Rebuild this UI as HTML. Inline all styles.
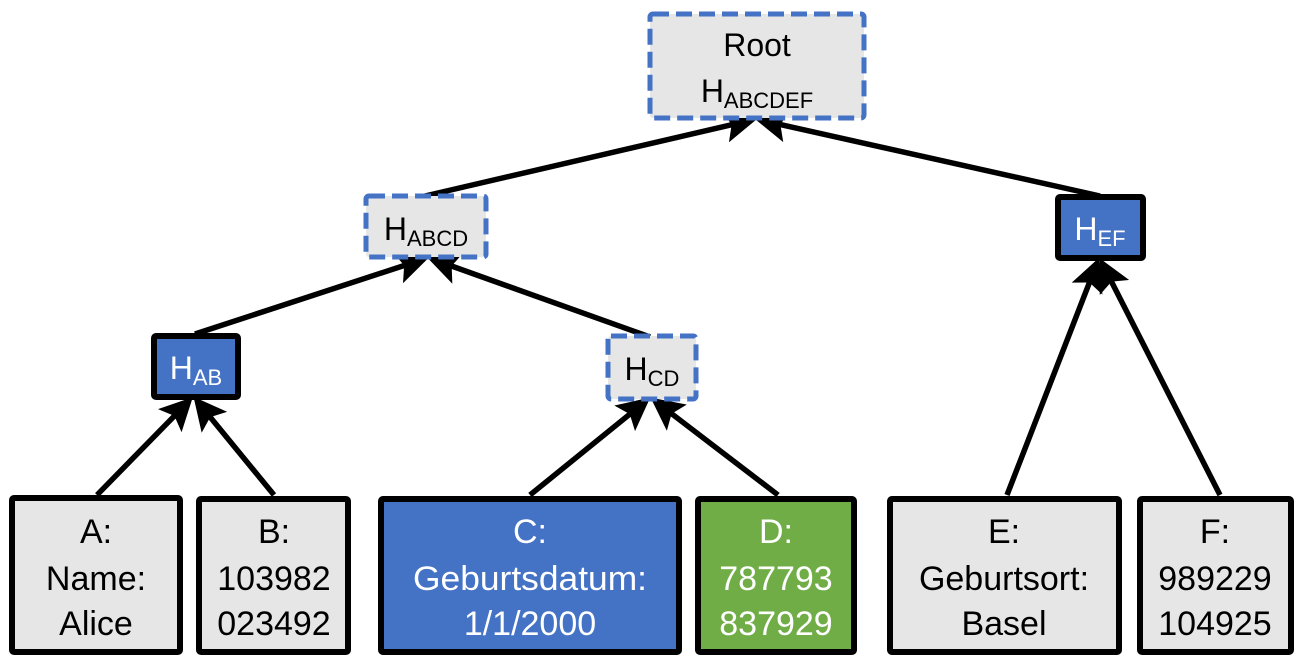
<!DOCTYPE html>
<html><head><meta charset="utf-8"><style>
html,body{margin:0;padding:0;background:#fff;}
svg{display:block;}
text{font-family:"Liberation Sans",sans-serif;}
</style></head><body>
<svg width="1311" height="665" viewBox="0 0 1311 665" xmlns="http://www.w3.org/2000/svg">
<defs>
<marker id="ah" markerWidth="6" markerHeight="6" refX="5" refY="3" orient="auto" markerUnits="strokeWidth">
<path d="M0,0 L6,3 L0,6 L1.2,3 z" fill="#000"/>
</marker>
</defs>
<g stroke="#000" stroke-width="5.5" fill="none" marker-end="url(#ah)">
<line x1="425" y1="196" x2="752" y2="120"/>
<line x1="1100" y1="196" x2="760" y2="120"/>
<line x1="195" y1="334" x2="424" y2="259"/>
<line x1="650" y1="337" x2="432" y2="259"/>
<line x1="97" y1="495" x2="189" y2="401"/>
<line x1="274" y1="495" x2="197" y2="401"/>
<line x1="530" y1="495" x2="646" y2="401"/>
<line x1="778" y1="495" x2="655" y2="401"/>
<line x1="1007" y1="495" x2="1097" y2="263"/>
<line x1="1220" y1="495" x2="1102" y2="263"/>
</g>
<g fill="#e6e6e6" stroke="#4472C4" stroke-width="5" stroke-dasharray="16,7">
<rect x="650" y="14" width="214" height="104" rx="3"/>
<rect x="366" y="196" width="120" height="61" rx="3"/>
<rect x="608" y="336" width="88" height="63" rx="3"/>
</g>
<g fill="#4472C4" stroke="#000" stroke-width="6">
<rect x="154" y="336" width="84" height="61" rx="2"/>
<rect x="1058" y="197" width="85" height="61" rx="2"/>
</g>
<g stroke="#000" stroke-width="6">
<rect x="12" y="498" width="168" height="154" fill="#e6e6e6" rx="2"/>
<rect x="199" y="499" width="149" height="153" fill="#e6e6e6" rx="2"/>
<rect x="381" y="499" width="298" height="153" fill="#4472C4" rx="2"/>
<rect x="698" y="499" width="156" height="153" fill="#70AD47" rx="2"/>
<rect x="890" y="499" width="229" height="153" fill="#e6e6e6" rx="2"/>
<rect x="1140" y="499" width="151" height="153" fill="#e6e6e6" rx="2"/>
</g>
<g font-size="32" text-anchor="middle" fill="#000">
<text x="757" y="56">Root</text>
<text x="757" y="102">H<tspan font-size="22" dy="6">ABCDEF</tspan></text>
<text x="426" y="240">H<tspan font-size="22" dy="6">ABCD</tspan></text>
<text x="652" y="380">H<tspan font-size="22" dy="6">CD</tspan></text>
<text x="196" y="379" fill="#fff">H<tspan font-size="22" dy="6">AB</tspan></text>
<text x="1100" y="240" fill="#fff">H<tspan font-size="22" dy="6">EF</tspan></text>
</g>
<g font-size="34" text-anchor="middle" fill="#000">
<text x="96" y="543">A:</text><text x="96" y="590">Name:</text><text x="96" y="635">Alice</text>
<text x="274" y="543">B:</text><text x="274" y="590">103982</text><text x="274" y="635">023492</text>
<g fill="#fff"><text x="530" y="543">C:</text><text x="530" y="590" textLength="234" lengthAdjust="spacingAndGlyphs">Geburtsdatum:</text><text x="530" y="635">1/1/2000</text>
<text x="776" y="543">D:</text><text x="776" y="590">787793</text><text x="776" y="635">837929</text></g>
<text x="1004" y="543">E:</text><text x="1004" y="590">Geburtsort:</text><text x="1004" y="635">Basel</text>
<text x="1215" y="543">F:</text><text x="1215" y="590">989229</text><text x="1215" y="635">104925</text>
</g>
</svg>
</body></html>
